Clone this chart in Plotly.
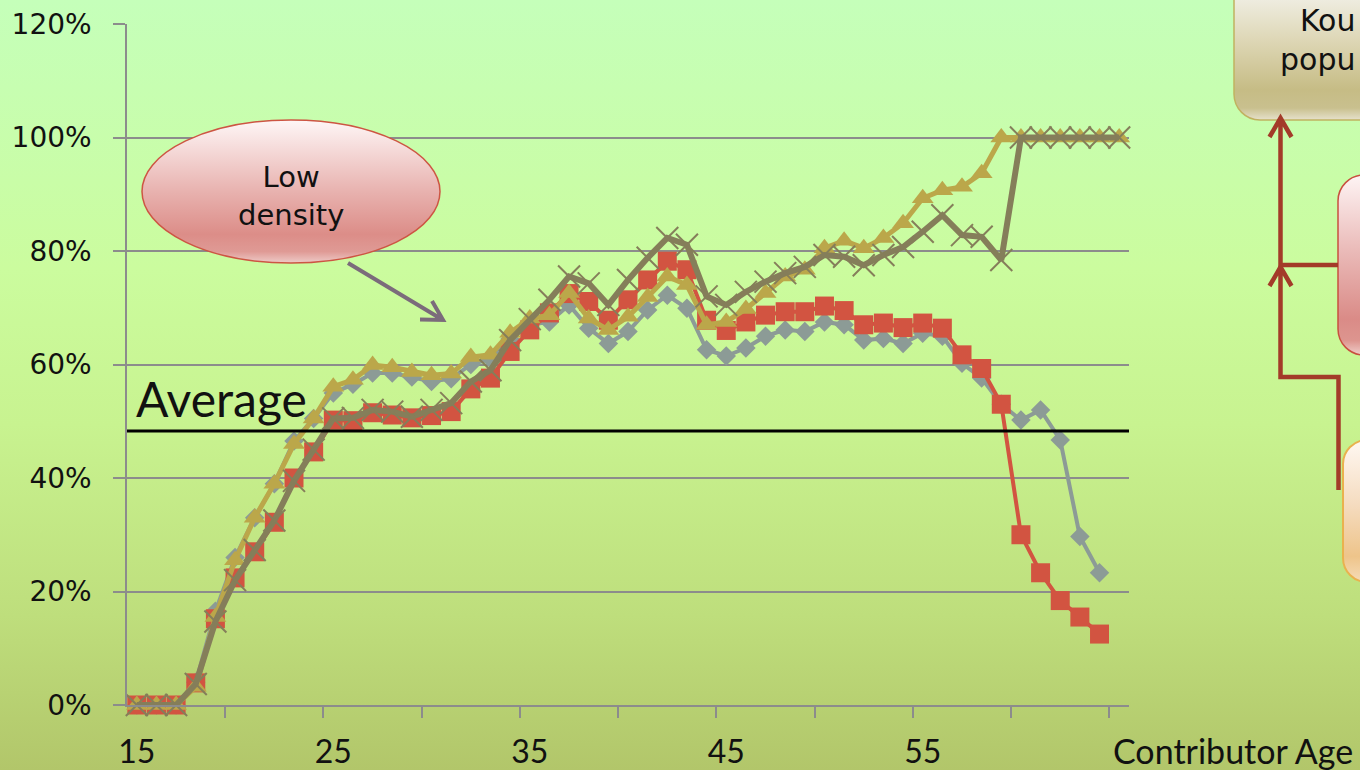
import base64
import plotly.graph_objects as go

# ---- data -------------------------------------------------------------
ages = list(range(15, 66))

series_diamond = [0, 0, 0, 0.04, 0.165, 0.26, 0.33, 0.39, 0.465, 0.505,
                  0.55, 0.565, 0.585, 0.585, 0.578, 0.57, 0.575, 0.60, 0.61, 0.645,
                  0.67, 0.675, 0.705, 0.664, 0.637, 0.658, 0.696, 0.722, 0.699, 0.626,
                  0.615, 0.629, 0.65, 0.661, 0.658, 0.675, 0.67, 0.643, 0.646, 0.637,
                  0.655, 0.65, 0.602, 0.576, 0.53, 0.502, 0.52, 0.467, 0.297, 0.233,
                  None]

series_square = [0, 0, 0, 0.039, 0.152, 0.224, 0.27, 0.322, 0.40, 0.446,
                 0.502, 0.501, 0.515, 0.511, 0.506, 0.51, 0.517, 0.557, 0.576, 0.623,
                 0.661, 0.691, 0.725, 0.711, 0.678, 0.714, 0.749, 0.782, 0.767, 0.678,
                 0.66, 0.675, 0.687, 0.693, 0.693, 0.703, 0.695, 0.67, 0.673, 0.665,
                 0.673, 0.664, 0.617, 0.593, 0.53, 0.30, 0.233, 0.184, 0.155, 0.125,
                 None]

series_triangle = [0, 0, 0, 0.032, 0.155, 0.255, 0.33, 0.39, 0.46, 0.505,
                   0.561, 0.573, 0.599, 0.595, 0.587, 0.581, 0.584, 0.613, 0.617, 0.656,
                   0.681, 0.687, 0.726, 0.681, 0.661, 0.684, 0.719, 0.755, 0.74, 0.67,
                   0.675, 0.698, 0.726, 0.755, 0.767, 0.805, 0.818, 0.805, 0.823, 0.849,
                   0.893, 0.907, 0.913, 0.937, 1.0, 1.0, 1.0, 1.0, 1.0, 1.0,
                   1.0]

series_cross = [0, 0, 0, 0.037, 0.147, 0.22, 0.273, 0.325, 0.395, 0.45,
                0.505, 0.506, 0.52, 0.517, 0.508, 0.52, 0.532, 0.57, 0.59, 0.643,
                0.68, 0.714, 0.755, 0.743, 0.705, 0.749, 0.788, 0.823, 0.811, 0.72,
                0.705, 0.728, 0.746, 0.761, 0.772, 0.793, 0.79, 0.775, 0.793, 0.807,
                0.834, 0.863, 0.828, 0.825, 0.784, 1.0, 1.0, 1.0, 1.0, 1.0,
                1.0]

average_level = 0.483

x_label_ages = [15, 25, 35, 45, 55]
x_tick_marks = [19.5, 24.5, 29.5, 34.5, 39.5, 44.5, 49.5, 54.5, 59.5, 64.5]
y_ticks = [0, 0.2, 0.4, 0.6, 0.8, 1.0, 1.2]
y_tick_text = ["0%", "20%", "40%", "60%", "80%", "100%", "120%"]

# ---- page geometry ----------------------------------------------------
W, H = 1360, 770
L, R, T, B = 127, 1129, 24, 705


def px(x):
    return (x - L) / (R - L)


def py(y):
    return (B - y) / (B - T)


GRID = "#8C8C8C"
INK = "#111111"

# ---- gradient artwork (background, callout ellipse, flow boxes) --------
bg_svg = f'''<svg xmlns="http://www.w3.org/2000/svg" width="{W}" height="{H}" viewBox="0 0 {W} {H}" preserveAspectRatio="none">
<defs>
<linearGradient id="bg" x1="0" y1="0" x2="0" y2="{H}" gradientUnits="userSpaceOnUse">
<stop offset="0" stop-color="#C5FFBA"/>
<stop offset="0.35" stop-color="#CBFC9E"/>
<stop offset="0.55" stop-color="#C8F390"/>
<stop offset="0.8" stop-color="#BEDE7C"/>
<stop offset="1" stop-color="#B2C66A"/>
</linearGradient>
<linearGradient id="olive" x1="0" y1="0" x2="0" y2="120" gradientUnits="userSpaceOnUse">
<stop offset="0" stop-color="#EEECDF"/>
<stop offset="0.35" stop-color="#DDD6B4"/>
<stop offset="0.75" stop-color="#C6BC85"/>
<stop offset="0.9" stop-color="#C9C08E"/>
<stop offset="1" stop-color="#E6E1CC"/>
</linearGradient>
<linearGradient id="rose" x1="0" y1="175" x2="0" y2="355" gradientUnits="userSpaceOnUse">
<stop offset="0" stop-color="#FEF4F4"/>
<stop offset="0.4" stop-color="#EBBDBB"/>
<stop offset="0.8" stop-color="#DA8B87"/>
<stop offset="0.92" stop-color="#DD958F"/>
<stop offset="1" stop-color="#F0CFCB"/>
</linearGradient>
<linearGradient id="peach" x1="0" y1="440" x2="0" y2="582" gradientUnits="userSpaceOnUse">
<stop offset="0" stop-color="#FFF8F2"/>
<stop offset="0.45" stop-color="#F5DCC0"/>
<stop offset="0.82" stop-color="#EEC48A"/>
<stop offset="1" stop-color="#F6DCB8"/>
</linearGradient>
</defs>
<rect x="0" y="0" width="{W}" height="{H}" fill="url(#bg)"/>
<rect x="1234" y="-40" width="200" height="160" rx="26" ry="26" fill="url(#olive)" stroke="#C0B260" stroke-width="1.5"/>
<rect x="1338" y="175" width="120" height="180" rx="26" ry="26" fill="url(#rose)" stroke="#C8503F" stroke-width="1.5"/>
<rect x="1343" y="440" width="120" height="142" rx="24" ry="24" fill="url(#peach)" stroke="#E9B24E" stroke-width="2"/>
</svg>'''

callout_svg = f'''<svg xmlns="http://www.w3.org/2000/svg" width="{W}" height="{H}" viewBox="0 0 {W} {H}" preserveAspectRatio="none">
<defs>
<linearGradient id="pink" x1="0" y1="120" x2="0" y2="263" gradientUnits="userSpaceOnUse">
<stop offset="0" stop-color="#FEF6F6"/>
<stop offset="0.5" stop-color="#E8B2AF"/>
<stop offset="0.8" stop-color="#DC8D88"/>
<stop offset="0.92" stop-color="#DF9A95"/>
<stop offset="1" stop-color="#EECBC8"/>
</linearGradient>
</defs>
<ellipse cx="291" cy="191.5" rx="149" ry="71.5" fill="url(#pink)" stroke="#CD5543" stroke-width="1.5"/>
</svg>'''


def svg_uri(svg):
    return "data:image/svg+xml;base64," + base64.b64encode(svg.encode()).decode()


full_page = dict(xref="paper", yref="paper", x=px(0), y=py(0),
                 sizex=W / (R - L), sizey=H / (B - T),
                 xanchor="left", yanchor="top", sizing="stretch")

fig = go.Figure()

# ---- series -----------------------------------------------------------
fig.add_trace(go.Scatter(
    x=ages, y=series_diamond, mode="lines+markers", cliponaxis=False,
    line=dict(color="#8C9B96", width=4),
    marker=dict(symbol="diamond", size=15, color="#8C9B96"),
    showlegend=False))

fig.add_trace(go.Scatter(
    x=ages, y=series_square, mode="lines+markers", cliponaxis=False,
    line=dict(color="#D25441", width=4),
    marker=dict(symbol="square", size=19, color="#D25441"),
    showlegend=False))

fig.add_trace(go.Scatter(
    x=ages, y=series_triangle, mode="lines+markers", cliponaxis=False,
    line=dict(color="#BBA74A", width=5),
    marker=dict(symbol="triangle-up", size=19, color="#BBA74A"),
    showlegend=False))

fig.add_trace(go.Scatter(
    x=ages, y=series_cross, mode="lines+markers", cliponaxis=False,
    line=dict(color="#857E5A", width=6),
    marker=dict(symbol="x-thin", size=22, color="#857E5A",
                line=dict(color="#857E5A", width=2)),
    showlegend=False))

# ---- reference line and arrows ----------------------------------------
shapes = [
    dict(type="line", xref="x", yref="y", x0=14.5, x1=65.5,
         y0=average_level, y1=average_level,
         line=dict(color="black", width=3), layer="above"),
]


def path(points_list):
    segs = []
    for pts in points_list:
        segs.append("M " + " L ".join(f"{px(x):.5f},{py(y):.5f}" for x, y in pts))
    return " ".join(segs)


# pointer from the callout toward the curve
shapes.append(dict(
    type="path", xref="paper", yref="paper", layer="above",
    path=path([[(348, 263), (443, 320)], [(420, 319.5), (443, 320), (432, 301)]]),
    line=dict(color="#7B6B7B", width=4)))

# flow connectors on the right
FLOW = "#A33B29"
shapes.append(dict(
    type="path", xref="paper", yref="paper", layer="above",
    path=path([[(1338, 265), (1280.5, 265), (1280.5, 118)],
               [(1269.5, 137), (1280.5, 118), (1291.5, 137)]]),
    line=dict(color=FLOW, width=4.5)))
shapes.append(dict(
    type="path", xref="paper", yref="paper", layer="above",
    path=path([[(1338.5, 490), (1338.5, 377), (1280.5, 377), (1280.5, 267)],
               [(1269.5, 286), (1280.5, 267), (1291.5, 286)]]),
    line=dict(color=FLOW, width=4.5)))

# ---- text -------------------------------------------------------------
annotations = [
    dict(text="Average", xref="paper", yref="paper", x=px(221), y=py(398),
         xanchor="center", yanchor="middle", showarrow=False,
         font=dict(family="Lato", size=48, color=INK)),
    dict(text="Low<br>density", xref="paper", yref="paper", x=px(291), y=py(196),
         xanchor="center", yanchor="middle", showarrow=False,
         font=dict(family="DejaVu Sans", size=29, color=INK)),
    dict(text="Contributor Age", xref="paper", yref="paper", x=px(1233), y=py(750),
         xanchor="center", yanchor="middle", showarrow=False,
         font=dict(family="Lato", size=34, color=INK)),
    dict(text="Kou<br>popu", xref="paper", yref="paper", x=px(1357), y=py(1),
         xanchor="right", yanchor="top", align="right", showarrow=False,
         font=dict(family="DejaVu Sans", size=30, color=INK)),
]

fig.update_layout(
    width=W, height=H,
    margin=dict(l=L, r=W - R, t=T, b=H - B, pad=0, autoexpand=False),
    paper_bgcolor="rgba(0,0,0,0)", plot_bgcolor="rgba(0,0,0,0)",
    showlegend=False,
    shapes=shapes,
    annotations=annotations,
    images=[dict(source=svg_uri(bg_svg), layer="below", **full_page),
            dict(source=svg_uri(callout_svg), layer="above", **full_page)],
    xaxis=dict(
        range=[14.5, 65.5], tickmode="array", tickvals=x_label_ages,
        ticktext=[str(a) for a in x_label_ages], ticks="",
        showgrid=False, zeroline=False, automargin=False,
        showline=True, linecolor=GRID, linewidth=1.5,
        tickfont=dict(family="Lato", size=32, color=INK),
        ticklabelstandoff=18,
        minor=dict(tickmode="array", tickvals=x_tick_marks, ticks="outside",
                   ticklen=11, tickwidth=1.5, tickcolor=GRID, showgrid=False),
    ),
    yaxis=dict(
        range=[0, 1.2], tickmode="array", tickvals=y_ticks, ticktext=y_tick_text,
        ticks="outside", ticklen=12, tickwidth=1.5, tickcolor=GRID,
        showgrid=True, gridcolor=GRID, gridwidth=1.5, zeroline=False,
        showline=True, linecolor=GRID, linewidth=1.5, automargin=False,
        tickfont=dict(family="DejaVu Sans", size=28, color=INK),
        ticklabelstandoff=16,
    ),
)

fig.write_html("out.html")
